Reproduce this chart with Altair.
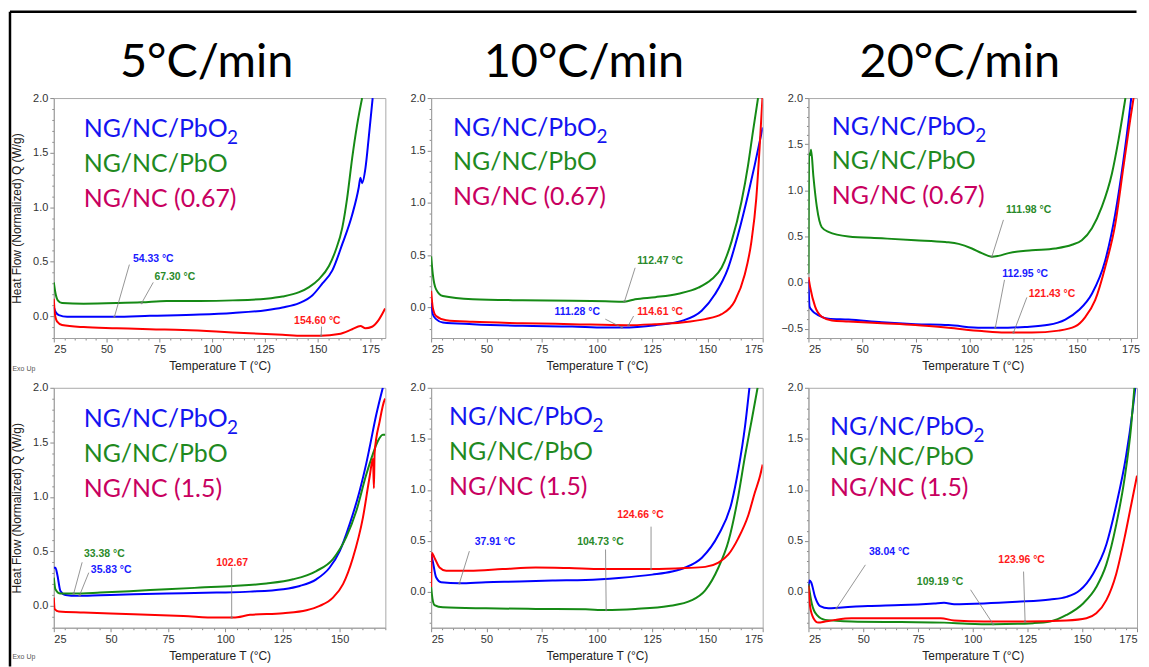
import math
import altair as alt
import pandas as pd

# ---------------- data ----------------
# Panel 1: 5 °C/min, NG/NC (0.67)
p1_blue_T = [25, 25.8, 27.4, 31.3, 53.7, 70.5, 94, 109.8, 125.5, 133.3, 141.2, 147.4, 152.2, 156.9, 161.6, 166.3, 169.4, 170.2, 171, 172.6, 174.1, 176]
p1_blue_Q = [0.085, 0.04, 0.01, -0.006, -0.006, 0.003, 0.015, 0.03, 0.055, 0.08, 0.12, 0.19, 0.3, 0.42, 0.66, 0.93, 1.18, 1.27, 1.22, 1.36, 1.63, 2.0]
p1_green_T = [25, 25.8, 26.9, 28.9, 39.1, 54.8, 66.6, 78.4, 94, 109.8, 125.5, 133.3, 141.2, 145.9, 150.6, 155.3, 158.4, 161.6, 163.9, 166.3, 168.6, 171]
p1_green_Q = [0.31, 0.21, 0.145, 0.12, 0.115, 0.12, 0.127, 0.14, 0.14, 0.145, 0.16, 0.18, 0.22, 0.267, 0.34, 0.46, 0.6, 0.81, 1.08, 1.45, 1.75, 2.0]
p1_red_T = [25, 25.5, 26.6, 28.9, 39.1, 54.8, 70.5, 86.2, 101.9, 117.6, 133.3, 142.7, 151.4, 160, 166.3, 170.2, 172.6, 175.7, 178.8, 181.9]
p1_red_Q = [0.16, 0.024, -0.05, -0.08, -0.10, -0.11, -0.12, -0.127, -0.14, -0.157, -0.17, -0.18, -0.18, -0.164, -0.12, -0.09, -0.11, -0.097, -0.036, 0.07]

# Panel 2: 10 °C/min, NG/NC (0.67)
p2_blue_T = [25, 25.75, 27.25, 30.3, 43.8, 66.3, 88.8, 103.8, 111.3, 126.4, 138.4, 147.4, 153.4, 159.4, 163.9, 168.4, 171.4, 175]
p2_blue_Q = [0.047, -0.063, -0.11, -0.142, -0.158, -0.174, -0.18, -0.19, -0.19, -0.168, -0.127, -0.03, 0.127, 0.38, 0.70, 1.08, 1.36, 1.72]
p2_green_T = [25, 25.75, 27.25, 30.3, 43.8, 66.3, 88.8, 103.8, 112.5, 117.3, 126.4, 136.9, 145.9, 151.9, 156.4, 160.9, 165.4, 168.4, 170.6, 172.9]
p2_green_Q = [0.49, 0.32, 0.174, 0.11, 0.08, 0.07, 0.066, 0.06, 0.057, 0.08, 0.10, 0.133, 0.19, 0.27, 0.38, 0.63, 1.01, 1.36, 1.68, 2.0]
p2_red_T = [25, 25.75, 27.25, 31.8, 43.8, 66.3, 88.8, 113.6, 126.4, 138.4, 148.9, 156.4, 162.4, 166.9, 169.9, 172.1, 173.6, 174.9]
p2_red_Q = [0.16, 0.0, -0.08, -0.12, -0.136, -0.149, -0.158, -0.168, -0.158, -0.142, -0.11, -0.063, 0.063, 0.316, 0.63, 1.04, 1.52, 2.0]

# Panel 3: 20 °C/min, NG/NC (0.67)
p3_blue_T = [25, 25.5, 26.6, 29.7, 34.3, 43.6, 59.2, 74.7, 90.2, 105.7, 113.5, 125.9, 136.8, 144.6, 150.8, 157, 163.2, 167.9, 171.7, 174.1, 175.3]
p3_blue_Q = [0.025, -0.26, -0.30, -0.355, -0.39, -0.40, -0.43, -0.45, -0.46, -0.49, -0.49, -0.48, -0.457, -0.40, -0.30, -0.12, 0.24, 0.75, 1.33, 1.76, 2.0]
p3_green_T = [25, 25.3, 25.8, 26.2, 27.3, 28.9, 31.2, 34.3, 43.6, 59.2, 74.7, 88.7, 94.9, 101.1, 105.7, 110.4, 113.5, 118.2, 129, 139.9, 147.7, 152.3, 157, 161.6, 166.3, 169.4, 172.6]
p3_green_Q = [0.10, 1.40, 1.38, 1.44, 1.15, 0.82, 0.60, 0.55, 0.50, 0.48, 0.46, 0.44, 0.42, 0.37, 0.32, 0.28, 0.29, 0.32, 0.35, 0.37, 0.41, 0.46, 0.59, 0.82, 1.18, 1.55, 2.0]
p3_red_T = [25, 25.8, 28.1, 31.2, 35.9, 43.6, 59.2, 74.7, 90.2, 105.7, 116.6, 129, 141.5, 149.2, 153.9, 158.5, 163.2, 167.9, 171.7, 174.8, 176.4]
p3_red_Q = [0.06, -0.05, -0.26, -0.37, -0.41, -0.42, -0.44, -0.46, -0.49, -0.525, -0.54, -0.54, -0.52, -0.475, -0.373, -0.19, 0.17, 0.64, 1.26, 1.76, 2.0]

# Panel 4: 5 °C/min, NG/NC (1.5)
p4_blue_T = [25, 25.7, 26.5, 27.9, 30.1, 35.2, 45.3, 59.9, 74.4, 96.2, 110.8, 125.3, 132.6, 139.8, 145.6, 150, 154.4, 158.7, 161.6, 163.1, 166, 168.9]
p4_blue_Q = [0.35, 0.35, 0.29, 0.137, 0.10, 0.092, 0.098, 0.107, 0.113, 0.122, 0.131, 0.153, 0.183, 0.244, 0.35, 0.50, 0.75, 1.05, 1.3, 1.45, 1.75, 2.0]
p4_green_T = [25, 25.7, 27.9, 33.7, 45.3, 59.9, 74.4, 89, 103.5, 118, 129.7, 139.8, 147.1, 152.9, 157.3, 161.6, 164.5, 166.7, 168.9, 170]
p4_green_Q = [0.26, 0.153, 0.113, 0.113, 0.122, 0.137, 0.153, 0.168, 0.183, 0.205, 0.244, 0.32, 0.43, 0.63, 0.87, 1.2, 1.39, 1.51, 1.57, 1.57]
p4_red_T = [25, 25.4, 27.2, 38.1, 59.9, 81.7, 96.2, 103.5, 110.8, 125.3, 135.5, 141.3, 147.1, 151.5, 155.8, 160.2, 163.1, 164.6, 165.0, 165.3, 167.5, 169.7, 170]
p4_red_Q = [0.076, -0.03, -0.052, -0.061, -0.076, -0.092, -0.107, -0.107, -0.082, -0.067, -0.04, 0.0, 0.076, 0.2, 0.44, 0.81, 1.18, 1.35, 1.08, 1.4, 1.69, 1.89, 1.9]

# Panel 5: 10 °C/min, NG/NC (1.5)
p5_blue_T = [25, 25.75, 27.25, 29.5, 37.8, 49.8, 64.8, 79.9, 94.9, 109.9, 125, 134, 140, 147.5, 155, 161, 164, 167, 169]
p5_blue_Q = [0.37, 0.30, 0.144, 0.096, 0.086, 0.096, 0.102, 0.112, 0.118, 0.138, 0.17, 0.20, 0.24, 0.336, 0.56, 0.88, 1.2, 1.62, 2.0]
p5_green_T = [25, 25.3, 26.5, 30.3, 49.8, 72.3, 94.9, 103.9, 117.4, 132.5, 143, 149, 155, 159.5, 164, 167, 170, 172.7]
p5_green_Q = [0.05, -0.016, -0.128, -0.15, -0.16, -0.166, -0.17, -0.176, -0.166, -0.138, -0.08, 0.016, 0.24, 0.496, 0.944, 1.33, 1.68, 2.0]
p5_red_T = [25, 25.3, 26.5, 28.8, 31.8, 42.3, 57.3, 72.3, 87.4, 102.4, 125, 140, 149, 155, 159.5, 164, 168.5, 171.5, 173.8, 175]
p5_red_Q = [0.05, 0.384, 0.336, 0.24, 0.208, 0.208, 0.224, 0.24, 0.234, 0.224, 0.224, 0.234, 0.246, 0.288, 0.368, 0.528, 0.752, 0.976, 1.136, 1.248]

# Panel 6: 20 °C/min, NG/NC (1.5)
p6_blue_T = [25, 25.45, 26.2, 28, 30.3, 34.1, 38.6, 52.2, 67.3, 82.4, 86.9, 91.5, 105.1, 120.2, 135.3, 142.8, 148.9, 154.9, 161, 165.5, 170, 173, 174.2]
p6_blue_Q = [0.048, 0.112, 0.096, -0.048, -0.138, -0.16, -0.154, -0.138, -0.128, -0.112, -0.106, -0.119, -0.112, -0.096, -0.074, -0.048, 0.016, 0.177, 0.465, 0.85, 1.33, 1.78, 2.0]
p6_green_T = [25, 26.5, 28.8, 32.6, 44.6, 67.3, 86.9, 97.5, 109.6, 127.7, 135.3, 142.8, 150.4, 156.4, 161, 165.5, 169.3, 172.3, 173.8]
p6_green_Q = [0.08, -0.112, -0.225, -0.273, -0.289, -0.295, -0.30, -0.31, -0.315, -0.305, -0.289, -0.225, -0.112, 0.048, 0.27, 0.66, 1.11, 1.62, 2.0]
p6_red_T = [25, 25.75, 27.3, 29.5, 32.6, 37.1, 44.6, 52.2, 67.3, 85.4, 91.5, 105.1, 123.2, 142.8, 151.9, 156.4, 161, 165.5, 169.3, 172.3, 175]
p6_red_Q = [0.064, -0.144, -0.257, -0.30, -0.289, -0.273, -0.257, -0.257, -0.257, -0.257, -0.279, -0.289, -0.289, -0.279, -0.257, -0.209, -0.08, 0.177, 0.53, 0.85, 1.14]

# annotations: label, series, label T, label Q, arrow start T, Q, arrow end T, Q
p1_notes = [("54.33 °C", "b", 72.1, 0.524, 60.8, 0.473, 53.7, -0.006),
            ("67.30 °C", "g", 82.3, 0.358, 72.1, 0.31, 66.6, 0.12),
            ("154.60 °C", "r", 149.8, -0.042, 151.8, -0.095, 151.6, -0.18)]
p2_notes = [("112.47 °C", "g", 128.6, 0.443, 117.3, 0.38, 112.5, 0.06),
            ("111.28 °C", "b", 91.1, -0.038, 103.8, -0.11, 111.3, -0.19),
            ("114.61 °C", "r", 128.6, -0.038, 116.6, -0.08, 114.3, -0.168)]
p3_notes = [("111.98 °C", "g", 127.5, 0.79, 115.8, 0.68, 110.4, 0.28),
            ("112.95 °C", "b", 125.9, 0.098, 116.3, 0.03, 112, -0.49),
            ("121.43 °C", "r", 138.4, -0.12, 126.7, -0.16, 120.5, -0.54)]
p4_notes = [("33.38 °C", "g", 47.1, 0.48, 37.4, 0.40, 33.7, 0.113),
            ("35.83 °C", "b", 50.1, 0.33, 40.3, 0.305, 36.3, 0.098),
            ("102.67", "r", 103.0, 0.397, 102.8, 0.35, 102.8, -0.107)]
p5_notes = [("37.91 °C", "b", 53.9, 0.49, 42.3, 0.40, 37.8, 0.086),
            ("104.73 °C", "g", 101.6, 0.49, 103.9, 0.416, 104.2, -0.176),
            ("124.66 °C", "r", 119.7, 0.752, 124.5, 0.64, 124.5, 0.224)]
p6_notes = [("38.04 °C", "b", 61.9, 0.395, 51, 0.266, 37.8, -0.16),
            ("109.19 °C", "g", 85.1, 0.096, 99, 0.022, 109.3, -0.315),
            ("123.96 °C", "r", 122.3, 0.31, 123.2, 0.2, 123.9, -0.289)]

rate_titles = ["5°C/min", "10°C/min", "20°C/min"]

LINE_COL = {"b": "#0000FF", "g": "#158A15", "r": "#FF0000"}
NOTE_COL = {"b": "#1A1AFF", "g": "#2A8A2A", "r": "#FF1A1A"}
LEG_COL = {"b": "#1414F0", "g": "#1F8A1F", "r": "#C8005F"}

panels = [
    dict(series=[("b", p1_blue_T, p1_blue_Q), ("g", p1_green_T, p1_green_Q), ("r", p1_red_T, p1_red_Q)],
         notes=p1_notes, xdom=[25, 182], ydom=[-0.2, 2.0], width=333, legend=(30, 39, 35), ratio="NG/NC (0.67)",
         title=rate_titles[0], ytitle=True, exo=272),
    dict(series=[("b", p2_blue_T, p2_blue_Q), ("g", p2_green_T, p2_green_Q), ("r", p2_red_T, p2_red_Q)],
         notes=p2_notes, xdom=[25, 175], ydom=[-0.29, 2.0], width=333, legend=(22, 38, 34.5), ratio="NG/NC (0.67)",
         title=rate_titles[1], ytitle=False, exo=None),
    dict(series=[("b", p3_blue_T, p3_blue_Q), ("g", p3_green_T, p3_green_Q), ("r", p3_red_T, p3_red_Q)],
         notes=p3_notes, xdom=[25, 178], ydom=[-0.6, 2.0], width=330, legend=(23.5, 37, 34.5), ratio="NG/NC (0.67)",
         title=rate_titles[2], ytitle=False, exo=None),
    dict(series=[("b", p4_blue_T, p4_blue_Q), ("g", p4_green_T, p4_green_Q), ("r", p4_red_T, p4_red_Q)],
         notes=p4_notes, xdom=[25, 170], ydom=[-0.2, 2.0], width=333, legend=(30, 39.3, 35), ratio="NG/NC (1.5)",
         title=None, ytitle=True, exo=270, frame=True),
    dict(series=[("b", p5_blue_T, p5_blue_Q), ("g", p5_green_T, p5_green_Q), ("r", p5_red_T, p5_red_Q)],
         notes=p5_notes, xdom=[25, 175], ydom=[-0.35, 2.0], width=333, legend=(18, 37.6, 35), ratio="NG/NC (1.5)",
         title=None, ytitle=False, exo=None),
    dict(series=[("b", p6_blue_T, p6_blue_Q), ("g", p6_green_T, p6_green_Q), ("r", p6_red_T, p6_red_Q)],
         notes=p6_notes, xdom=[25, 175], ydom=[-0.35, 2.0], width=330, legend=(21.7, 47, 31), ratio="NG/NC (1.5)",
         title=None, ytitle=False, exo=None),
]

H = 241
AXIS_FONT = "Liberation Sans"
LEG_FONT = "Lato"


def one_row():
    return pd.DataFrame({"k": [0]})


def build(p):
    xs = alt.Scale(domain=p["xdom"], nice=False, zero=False)
    ys = alt.Scale(domain=p["ydom"], nice=False, zero=False)
    xvals = list(range(25, int(p["xdom"][1]) + 1, 5))
    ylo = math.ceil(p["ydom"][0] * 10 - 1e-9)
    yvals = [round(v / 10, 1) for v in range(ylo, 21)]
    xaxis = alt.Axis(values=xvals, labelExpr="datum.value % 25 === 0 ? datum.label : ''",
                     tickSize={"condition": {"test": "datum.value % 25 === 0", "value": 4}, "value": 2},
                     labelOverlap=False, title="Temperature T (°C)", titlePadding=6, labelPadding=2, grid=False)
    ytest = "abs(datum.value*2 - round(datum.value*2)) < 0.01"
    yaxis_kw = dict(values=yvals, labelExpr=ytest + " ? format(datum.value, '.1f') : ''",
                    tickSize={"condition": {"test": ytest, "value": 4}, "value": 2},
                    labelOverlap=False, labelPadding=2, grid=False)
    if p["ytitle"]:
        yaxis = alt.Axis(title="Heat Flow (Normalized) Q (W/g)", titlePadding=9, **yaxis_kw)
    else:
        yaxis = alt.Axis(title=None, **yaxis_kw)

    rows = []
    for key, ts, qs in p["series"]:
        for i, (t, q) in enumerate(zip(ts, qs)):
            rows.append({"T": t, "Q": q, "s": key, "c": LINE_COL[key], "o": i})
    df = pd.DataFrame(rows)
    lines = alt.Chart(df).mark_line(strokeWidth=2, clip=True, interpolate="monotone").encode(
        x=alt.X("T:Q", scale=xs, axis=xaxis),
        y=alt.Y("Q:Q", scale=ys, axis=yaxis),
        color=alt.Color("c:N", scale=None),
        detail="s:N",
        order="o:Q",
    )

    nd = pd.DataFrame([{"label": n[0], "c": NOTE_COL[n[1]], "lt": n[2], "lq": n[3],
                        "at": n[4], "aq": n[5], "bt": n[6], "bq": n[7]} for n in p["notes"]])
    arrows = alt.Chart(nd).mark_rule(color="#7a7a7a", strokeWidth=0.8).encode(
        x=alt.X("at:Q", scale=xs, axis=xaxis), y=alt.Y("aq:Q", scale=ys, axis=yaxis),
        x2="bt:Q", y2="bq:Q")
    heads = alt.Chart(nd).mark_point(shape="circle", size=6, filled=True, color="#7a7a7a").encode(
        x=alt.X("bt:Q", scale=xs, axis=xaxis), y=alt.Y("bq:Q", scale=ys, axis=yaxis))
    labels = alt.Chart(nd).mark_text(font=AXIS_FONT, fontWeight="bold", fontSize=10.5, baseline="middle").encode(
        x=alt.X("lt:Q", scale=xs, axis=xaxis), y=alt.Y("lq:Q", scale=ys, axis=yaxis),
        text="label:N", color=alt.Color("c:N", scale=None))

    layers = [lines, arrows, heads, labels]

    lx, ly, dy = p["legend"]
    leg = [
        ("NG/NC/PbO", LEG_COL["b"], lx, ly, 25),
        ("2", LEG_COL["b"], lx + 144, ly + 7, 19),
        ("NG/NC/PbO", LEG_COL["g"], lx, ly + dy, 25),
        (p["ratio"], LEG_COL["r"], lx, ly + 2 * dy, 25),
    ]
    for txt, col, x, y, fs in leg:
        layers.append(alt.Chart(pd.DataFrame({"t": [txt]})).mark_text(
            font=LEG_FONT, fontSize=fs, align="left", baseline="alphabetic", color=col).encode(
            text="t:N", x=alt.value(x), y=alt.value(y)))

    if p["title"]:
        layers.append(alt.Chart(pd.DataFrame({"t": [p["title"]]})).mark_text(
            font=LEG_FONT, fontSize=47, align="center", baseline="alphabetic", color="black").encode(
            text="t:N", x=alt.value(p["width"] / 2 - 13), y=alt.value(-21)))

    if p["exo"] is not None:
        layers.append(alt.Chart(pd.DataFrame({"t": ["Exo Up"]})).mark_text(
            font=AXIS_FONT, fontSize=7, align="left", baseline="middle", color="#555555").encode(
            text="t:N", x=alt.value(-41.5), y=alt.value(p["exo"])))

    if p.get("frame"):
        layers.append(alt.Chart(one_row()).mark_rule(color="black", strokeWidth=2.5).encode(
            x=alt.value(-44), y=alt.value(-377.7), y2=alt.value(280)))
        layers.append(alt.Chart(one_row()).mark_rule(color="black", strokeWidth=2.5).encode(
            x=alt.value(-44), x2=alt.value(1087.5), y=alt.value(-377.7)))

    return alt.layer(*layers).properties(width=p["width"], height=H)


chart = alt.concat(*[build(p) for p in panels], columns=3,
                   spacing={"row": 50, "column": 46}, bounds="flush").properties(
    padding=0, background="white"
).configure_view(stroke="#a8a8a8", strokeWidth=1).configure_axis(
    labelFont=AXIS_FONT, labelFontSize=11, labelColor="#333333",
    titleFont=AXIS_FONT, titleFontSize=12, titleFontWeight="normal", titleColor="#222222",
    tickColor="#8a8a8a", domainColor="#a0a0a0", tickWidth=1,
)

chart.save("out.html", embed_options={"renderer": "svg", "actions": False})
